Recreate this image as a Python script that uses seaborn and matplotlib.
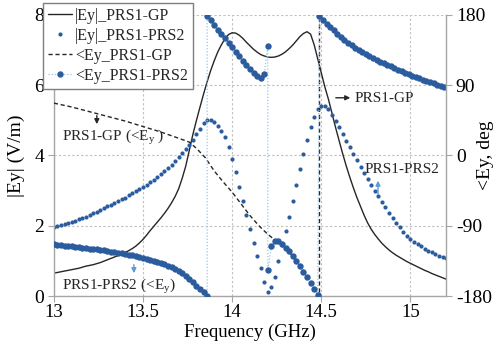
import numpy as np
import matplotlib
matplotlib.use("Agg")
import matplotlib.pyplot as plt
import seaborn as sns


# frequency grid (GHz) for the magnitude curves
freq = np.round(np.arange(13.0, 15.2001, 0.02), 2)

# |Ey| (V/m)
mag_gp = [
    0.65, 0.67, 0.69, 0.71, 0.73, 0.75, 0.77, 0.79, 0.82, 0.85,
    0.87, 0.89, 0.92, 0.95, 0.99, 1.03, 1.07, 1.11, 1.15, 1.19,
    1.24, 1.29, 1.35, 1.42, 1.51, 1.61, 1.73, 1.86, 1.98, 2.10,
    2.22, 2.35, 2.49, 2.65, 2.83, 3.05, 3.35, 3.70, 4.15, 4.60,
    5.00, 5.38, 5.75, 6.10, 6.42, 6.70, 6.95, 7.15, 7.32, 7.44,
    7.49, 7.48, 7.42, 7.33, 7.22, 7.12, 7.02, 6.94, 6.87, 6.83,
    6.80, 6.79, 6.80, 6.83, 6.88, 6.95, 7.04, 7.14, 7.26, 7.38,
    7.47, 7.52, 7.45, 7.15, 6.75, 6.35, 5.95, 5.60, 5.20, 4.80,
    4.42, 4.05, 3.70, 3.38, 3.08, 2.80, 2.55, 2.30, 2.08, 1.90,
    1.75, 1.62, 1.50, 1.40, 1.31, 1.23, 1.16, 1.10, 1.04, 0.98,
    0.93, 0.88, 0.83, 0.78, 0.73, 0.69, 0.64, 0.60, 0.56, 0.52,
    0.48,
]
mag_prs2 = [
    1.95, 1.98, 2.01, 2.04, 2.07, 2.10, 2.14, 2.18, 2.22, 2.26,
    2.30, 2.35, 2.40, 2.45, 2.50, 2.55, 2.60, 2.65, 2.70, 2.75,
    2.80, 2.86, 2.92, 2.98, 3.04, 3.10, 3.17, 3.24, 3.31, 3.39,
    3.47, 3.56, 3.65, 3.74, 3.84, 3.95, 4.06, 4.18, 4.30, 4.45,
    4.60, 4.76, 4.92, 5.01, 5.00, 4.95, 4.85, 4.70, 4.52, 4.25,
    3.90, 3.52, 3.10, 2.70, 2.30, 1.90, 1.50, 1.15, 0.80, 0.40,
    0.12, 0.25, 0.55, 1.00, 1.45, 1.85, 2.25, 2.70, 3.15, 3.60,
    4.05, 4.45, 4.80, 5.10, 5.32, 5.42, 5.40, 5.32, 5.16, 4.98,
    4.80, 4.61, 4.42, 4.23, 4.04, 3.86, 3.68, 3.50, 3.33, 3.16,
    3.00, 2.84, 2.68, 2.52, 2.37, 2.22, 2.08, 1.95, 1.83, 1.72,
    1.63, 1.55, 1.48, 1.41, 1.35, 1.29, 1.24, 1.19, 1.15, 1.11,
    1.08,
]

# phase of PRS1-PRS2 (deg), in pieces between the wraps
phase_freq_1 = np.round(np.arange(13.0, 13.8601, 0.02), 2)
phase_prs2_1 = [
    -114.0, -114.5, -115.0, -115.5, -116.0, -116.5, -117.0, -117.5, -118.0, -118.6,
    -119.2, -119.8, -120.4, -121.0, -121.7, -122.4, -123.1, -123.8, -124.6, -125.4,
    -126.2, -127.1, -128.0, -129.0, -130.0, -131.1, -132.3, -133.5, -134.8, -136.2,
    -137.7, -139.3, -141.0, -142.9, -145.0, -147.5, -150.5, -154.0, -158.0, -162.5,
    -167.0, -171.5, -175.5, -179.5,
]
phase_freq_2 = np.round(np.arange(13.86, 14.2001, 0.02), 2)
phase_prs2_2 = [179, 173, 167, 161, 155.5, 150, 144.5, 139, 133, 127,
                121, 115.5, 110.5, 106, 102, 99.5, 104, 140]
phase_freq_3 = np.round(np.arange(14.20, 14.4801, 0.02), 2)
phase_prs2_3 = [-147, -116, -109, -110, -114, -118, -123, -129, -135, -142,
                -149, -156, -163, -171, -179]
phase_freq_4 = np.round(np.arange(14.49, 15.2001, 0.02), 2)
phase_prs2_4 = [
    178, 173, 168.5, 164, 160, 156, 152, 148, 144.5, 141,
    138, 135, 132, 129.5, 127, 124.5, 122, 120, 118, 116,
    114, 112, 110, 108, 106, 104, 102, 100.3, 98.6, 97,
    95.4, 93.8, 92.2, 90.6, 89, 87.5,
]

# phase of PRS1-GP (deg)
gp_phase_freq = [13.0, 13.1, 13.2, 13.3, 13.4, 13.5, 13.6, 13.7, 13.76, 13.8,
                 13.85, 13.9, 13.95, 14.0, 14.05, 14.1, 14.15, 14.2, 14.25, 14.3,
                 14.35, 14.4, 14.45, 14.49, 14.49, 14.53, 14.59, 14.67, 14.75,
                 14.85, 14.95, 15.05, 15.2]
gp_phase = [67, 62, 56, 50, 44, 37, 30, 22, 17, 9,
            -3, -20, -34, -47, -62, -77, -90, -101, -110, -119,
            -132, -148, -167, -180, 180, 168, 156, 141, 129,
            118, 108, 98, 86]

xtick_vals = [13, 13.5, 14, 14.5, 15]
xtick_labels = ["13", "13.5", "14", "14.5", "15"]
ytick_left = [0, 2, 4, 6, 8]
ytick_right = [-180, -90, 0, 90, 180]
series_labels = ["|Ey|_PRS1-GP", "|Ey|_PRS1-PRS2", "<Ey_PRS1-GP", "<Ey_PRS1-PRS2"]

phase_freq = np.concatenate([phase_freq_1, phase_freq_2, phase_freq_3, phase_freq_4])
phase_prs2 = phase_prs2_1 + phase_prs2_2 + phase_prs2_3 + phase_prs2_4

BLUE = "#2b5c9e"
LIGHT = "#9dc3e6"
BLACK = "#262626"
GRID = "#bfbfbf"
SPINE = "#a6a6a6"

sns.set_theme(style="ticks")
plt.rcParams["font.family"] = ["Liberation Serif", "DejaVu Serif"]
plt.rcParams["mathtext.fontset"] = "custom"
plt.rcParams["mathtext.rm"] = "Liberation Serif"
plt.rcParams["axes.unicode_minus"] = False

fig = plt.figure(figsize=(4.94, 3.45), dpi=100)
ax = fig.add_axes([0.109, 0.142, 0.794, 0.815])
ax2 = ax.twinx()

sns.lineplot(x=freq, y=mag_gp, ax=ax, color=BLACK, linewidth=1.0,
             estimator=None, sort=False, legend=False)
sns.lineplot(x=freq, y=mag_prs2, ax=ax, color=BLUE, linestyle="none",
             marker="o", markersize=3.0, markeredgewidth=0,
             estimator=None, sort=False, legend=False)
sns.lineplot(x=gp_phase_freq, y=gp_phase, ax=ax2, color=BLACK, linewidth=1.0,
             linestyle=(0, (3, 2)), estimator=None, sort=False, legend=False)
sns.lineplot(x=phase_freq, y=phase_prs2, ax=ax2, color=LIGHT, linewidth=0.9,
             linestyle=(0, (1, 1.5)), marker="o", markersize=4.6,
             markerfacecolor=BLUE, markeredgewidth=0,
             estimator=None, sort=False, legend=False)

ax.set_xlim(13, 15.2)
ax.set_ylim(0, 8)
ax2.set_ylim(-180, 180)
ax.set_xticks(xtick_vals)
ax.set_xticklabels(xtick_labels)
ax.set_yticks(ytick_left)
ax2.set_yticks(ytick_right)

ax.grid(True, linestyle=(0, (2, 2)), color=GRID, linewidth=0.8)
ax2.grid(False)

for a in (ax, ax2):
    a.spines["top"].set_visible(False)
    for s in a.spines.values():
        s.set_color(SPINE)
        s.set_linewidth(1.0)
    a.tick_params(direction="out", length=4, width=0.8, color=SPINE,
                  labelsize=14, labelcolor="black", pad=3)
ax.tick_params(axis="x", labelsize=13.5, pad=2)
ax.spines["right"].set_visible(False)
ax2.spines["left"].set_visible(False)
ax2.spines["bottom"].set_visible(False)

ax.set_xlabel("Frequency (GHz)", fontsize=13.5, color="black")
ax.xaxis.set_label_coords(0.5, -0.097)
ax.set_ylabel("|Ey| (V/m)", fontsize=14, color="black")
ax.yaxis.set_label_coords(-0.074, 0.5)
ax2.set_ylabel("<Ey, deg", fontsize=14, color="black")
ax2.yaxis.set_label_coords(1.079, 0.5)

# annotations
arrow_black = dict(arrowstyle="-|>", color=BLACK, lw=1.0, mutation_scale=7)
arrow_blue = dict(arrowstyle="-|>", color="#5b9bd5", lw=1.0, mutation_scale=7)
ax.annotate("", xy=(13.241, 4.81), xytext=(13.241, 5.21), arrowprops=arrow_black)
ax.text(13.045, 4.53, r"PRS1-GP (<E$_\mathrm{y}$ )", fontsize=11, color=BLACK,
        ha="left", va="center")
ax.annotate("", xy=(13.449, 0.57), xytext=(13.449, 0.97), arrowprops=arrow_blue)
ax.text(13.045, 0.285, r"PRS1-PRS2 (<E$_\mathrm{y}$)", fontsize=11, color=BLACK,
        ha="left", va="center")
ax.annotate("", xy=(14.678, 5.64), xytext=(14.566, 5.64), arrowprops=arrow_black)
ax.text(14.689, 5.61, "PRS1-GP", fontsize=11, color=BLACK, ha="left", va="center")
ax.annotate("", xy=(14.818, 3.36), xytext=(14.818, 2.82), arrowprops=arrow_blue)
ax.text(14.745, 3.59, "PRS1-PRS2", fontsize=11, color=BLACK, ha="left", va="center")

handles = list(ax.get_lines()) + list(ax2.get_lines())
leg = fig.legend(handles, series_labels, loc="upper left",
                 bbox_to_anchor=(43 / 494, 1 - 3 / 345), bbox_transform=fig.transFigure,
                 borderaxespad=0, frameon=True, fancybox=False, framealpha=1,
                 edgecolor="#7f7f7f", fontsize=11.5, handlelength=1.5,
                 handletextpad=0.2, labelspacing=0.25, borderpad=0.3)
leg.get_frame().set_linewidth(1.0)

fig.savefig("out.png", dpi=100)
